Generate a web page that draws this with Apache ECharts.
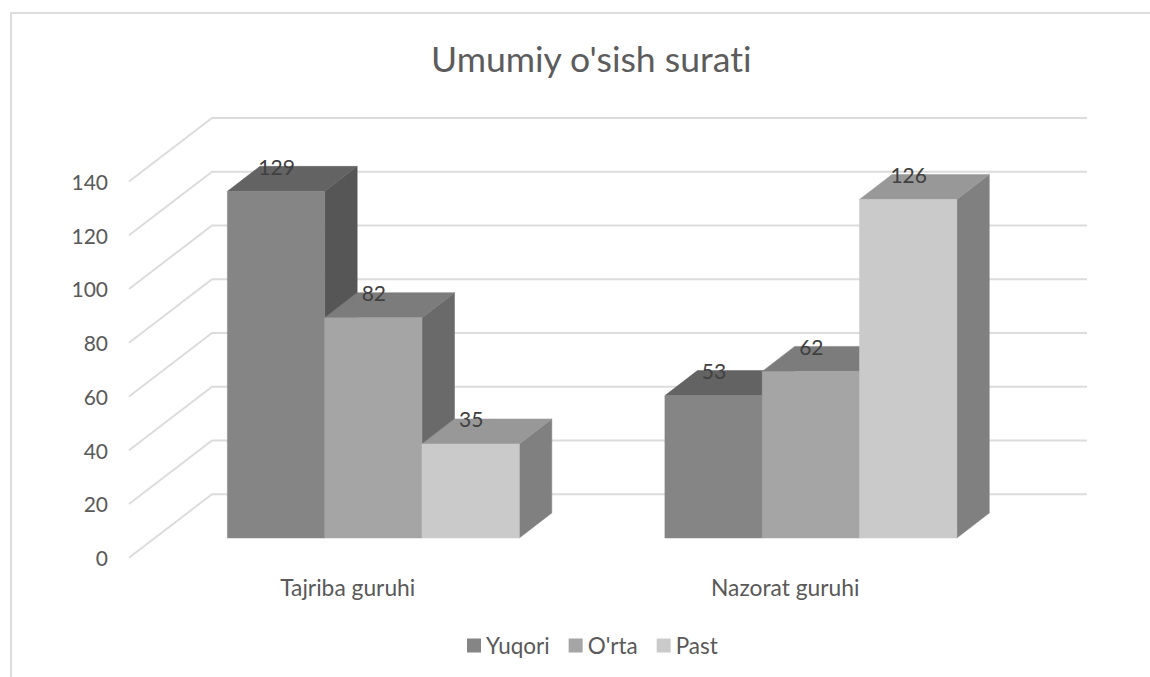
<!DOCTYPE html>
<html>
<head>
<meta charset="utf-8">
<style>html,body{margin:0;padding:0;background:#fff}#c{width:1150px;height:677px}
#c text{font-variant-ligatures:none;font-feature-settings:"liga" 0,"clig" 0}</style>
<script src="https://cdn.jsdelivr.net/npm/echarts@6/dist/echarts.min.js"></script>
</head>
<body>
<div id="c"></div>
<script>
var categories = ["Tajriba guruhi", "Nazorat guruhi"];
var yuqori = [129, 53];
var orta = [82, 62];
var past = [35, 126];
var ticks = [0, 20, 40, 60, 80, 100, 120, 140];

var FONT = "Lato";
var WALL = [83, -63.5];
var BAR_SHIFT = [25.6, -19.7];
var BAR_DEPTH = [32.5, -25];
var BAR_W = 97.3;

var chart = echarts.init(document.getElementById('c'), null, {renderer: 'svg'});

function wallItem(params, api) {
  var y = api.coord([0, api.value(0)])[1];
  var sys = params.coordSys;
  return {
    type: 'polyline',
    shape: {points: [[sys.x, y], [sys.x + WALL[0], y + WALL[1]], [sys.x + sys.width + WALL[0], y + WALL[1]]]},
    style: {stroke: '#dcdcdc', lineWidth: 2, fill: null},
    silent: true
  };
}

function barRenderer(idx, faces) {
  return function (params, api) {
    var cat = api.value(0), val = api.value(1);
    var cx = api.coord([cat, 0])[0];
    var base = api.coord([cat, 0])[1] + BAR_SHIFT[1];
    var top = api.coord([cat, val])[1] + BAR_SHIFT[1];
    var x0 = cx + BAR_SHIFT[0] + (idx - 1.5) * BAR_W;
    var x1 = x0 + BAR_W;
    var dx = BAR_DEPTH[0], dy = BAR_DEPTH[1];
    return {
      type: 'group',
      children: [
        {type: 'polygon', shape: {points: [[x1, top], [x1 + dx, top + dy], [x1 + dx, base + dy], [x1, base]]},
          style: {fill: faces.side, stroke: faces.side, lineWidth: 0.5}},
        {type: 'polygon', shape: {points: [[x0, top], [x0 + dx, top + dy], [x1 + dx, top + dy], [x1, top]]},
          style: {fill: faces.top, stroke: faces.top, lineWidth: 0.5}},
        {type: 'rect', shape: {x: x0, y: top, width: BAR_W, height: base - top},
          style: {fill: faces.front, stroke: faces.front, lineWidth: 0.5}},
        {type: 'text', z2: 10, style: {
          text: String(val), x: x0 + BAR_W / 2 + 0.5, y: top + dy,
          align: 'center', verticalAlign: 'middle',
          fill: '#404040', font: '21px ' + FONT}}
      ]
    };
  };
}

function barSeries(name, values, idx, faces) {
  return {
    name: name, type: 'custom', coordinateSystem: 'cartesian2d',
    itemStyle: {color: faces.front},
    encode: {x: 0, y: 1},
    renderItem: barRenderer(idx, faces),
    data: values.map(function (v, i) { return [i, v]; }),
    z: 3 + idx,
    clip: false
  };
}

chart.setOption({
  animation: false,
  backgroundColor: '#ffffff',
  title: {
    text: "Umumiy o'sish surati", left: 426, top: 35,
    textStyle: {color: '#5c5c5c', fontFamily: FONT, fontSize: 35.6, fontWeight: 'normal'}
  },
  legend: {
    data: ['Yuqori', "O'rta", 'Past'],
    left: 462, top: 629, icon: 'rect', itemWidth: 14, itemHeight: 14, itemGap: 19,
    selectedMode: false,
    textStyle: {color: '#595959', fontFamily: FONT, fontSize: 22.5}
  },
  grid: {left: 129, top: 181.5, width: 875, height: 376.2},
  xAxis: {
    type: 'category', data: categories,
    axisLine: {show: false}, axisTick: {show: false}, splitLine: {show: false},
    axisLabel: {color: '#595959', fontFamily: FONT, fontSize: 22.8, margin: 18}
  },
  yAxis: {
    type: 'value', min: 0, max: 140, interval: 20,
    axisLine: {show: false}, axisTick: {show: false}, splitLine: {show: false},
    axisLabel: {color: '#595959', fontFamily: FONT, fontSize: 21, margin: 21}
  },
  graphic: [
    {type: 'polyline', silent: true, shape: {points: [[11, 677], [11, 13], [1150, 13]]},
      style: {stroke: '#dcdcdc', lineWidth: 2, fill: null}}
  ],
  series: [
    {
      name: 'walls', type: 'custom', coordinateSystem: 'cartesian2d', z: 1, clip: false,
      renderItem: wallItem, encode: {y: 0}, silent: true,
      data: ticks.map(function (t) { return [t]; })
    },
    barSeries('Yuqori', yuqori, 0, {front: '#858585', top: '#636363', side: '#565656'}),
    barSeries("O'rta", orta, 1, {front: '#a5a5a5', top: '#7c7c7c', side: '#6a6a6a'}),
    barSeries('Past', past, 2, {front: '#cacaca', top: '#989898', side: '#808080'})
  ]
});
</script>
</body>
</html>
